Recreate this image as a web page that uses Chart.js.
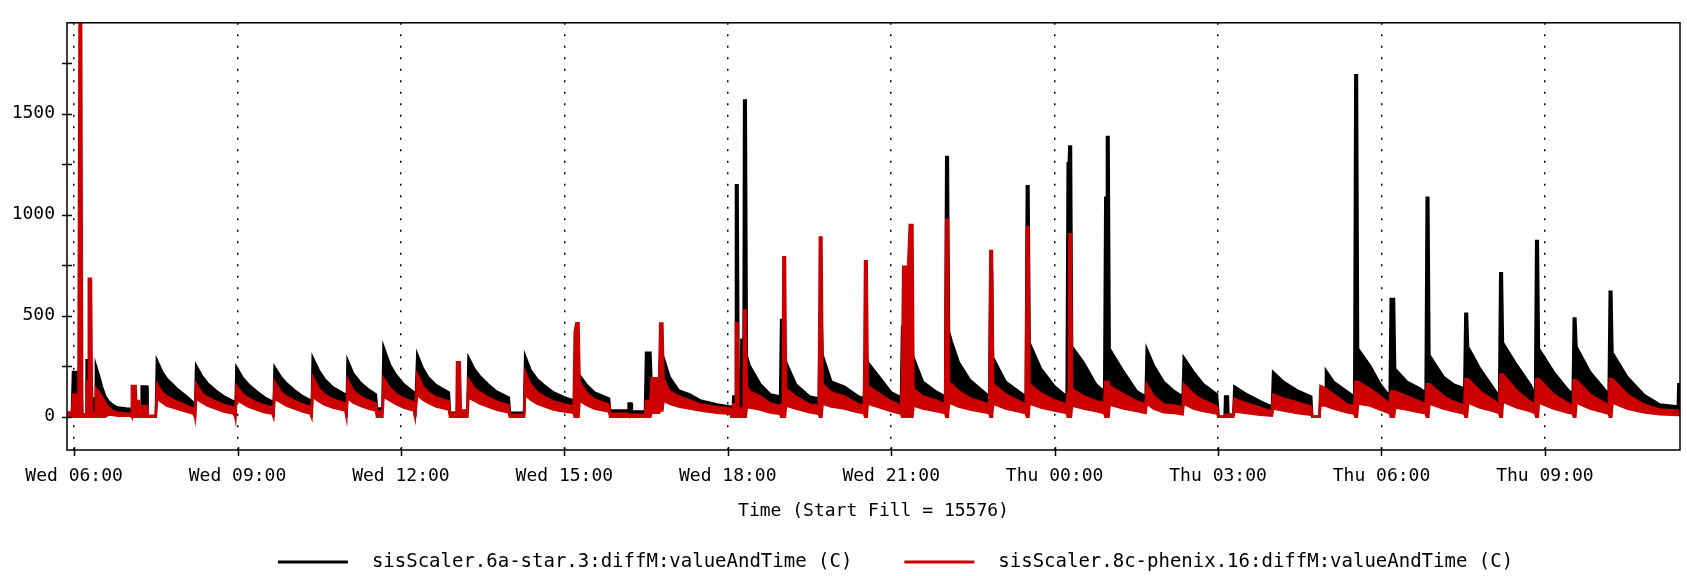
<!DOCTYPE html>
<html>
<head>
<meta charset="utf-8">
<script src="https://cdn.jsdelivr.net/npm/chart.js@4.4.1/dist/chart.umd.min.js"></script>
<style>
  html, body { margin: 0; padding: 0; background: #fff; }
  canvas { display: block; }
</style>
</head>
<body>
<canvas id="chart" width="1687" height="576"></canvas>
<script>
// hours since Wed 00:00
const times = [
  5.87, 5.96, 5.98, 6.08, 6.10, 6.13, 6.15, 6.22, 6.23, 6.26, 6.27, 6.31, 6.33, 6.39, 6.40, 6.46, 6.51, 6.57, 6.63, 6.70, 6.80, 6.96, 7.05, 7.06, 7.13, 7.14, 7.19, 7.20, 7.23, 7.24, 7.34, 7.35, 7.50,
  7.52, 7.62, 7.70, 7.88, 8.06, 8.19, 8.22, 8.24, 8.35, 8.45, 8.60, 8.75, 8.93,
  8.96, 8.98, 9.10, 9.20, 9.35, 9.50, 9.64, 9.66, 9.68, 9.80, 9.90, 10.05, 10.20, 10.34,
  10.36, 10.38, 10.50, 10.60, 10.75, 10.98, 11.00, 11.02, 11.12, 11.25, 11.40, 11.54, 11.56, 11.66, 11.68, 11.80, 11.90, 12.05, 12.24,
  12.26, 12.30, 12.40, 12.50, 12.65, 12.88, 12.90, 13.02, 13.03, 13.08, 13.10, 13.22, 13.24, 13.35, 13.45, 13.60, 13.75, 13.98, 14.00, 14.26,
  14.28, 14.38, 14.50, 14.65, 14.80, 15.00, 15.17, 15.19, 15.22, 15.26, 15.28, 15.40, 15.55, 15.82, 15.84, 16.17, 16.18, 16.23, 16.24, 16.48,
  16.50, 16.58, 16.60, 16.74, 16.76, 16.80, 16.82, 16.93, 17.10, 17.30, 17.50, 17.80, 18.05, 18.07, 18.09,
  18.10, 18.14, 18.15, 18.18, 18.20, 18.24, 18.25, 18.29, 18.30, 18.33, 18.35, 18.40, 18.60, 18.78, 18.96, 18.98, 19.01, 19.02, 19.05, 19.07, 19.25, 19.50, 19.67,
  19.69, 19.72, 19.74, 19.90, 20.14, 20.40, 20.50, 20.52, 20.55, 20.57, 20.80, 21.00, 21.18, 21.20, 21.22, 21.31, 21.32, 21.34, 21.39, 21.41, 21.58, 21.82, 21.99,
  22.01, 22.04, 22.06, 22.11, 22.24, 22.45, 22.80, 22.82, 22.85, 22.87, 23.10, 23.47, 23.49, 23.52, 23.54, 23.75, 24.00, 24.22,
  24.24, 24.26, 24.27, 24.30, 24.32, 24.53, 24.76, 24.91, 24.93, 24.95, 24.96, 24.99, 25.01, 25.27, 25.51, 25.67,
  25.69, 25.82, 26.00, 26.20, 26.35, 26.37, 26.55, 26.73, 26.98, 27.01, 27.12, 27.13, 27.18, 27.19, 27.28,
  27.30, 27.53, 27.77, 27.99, 28.01, 28.20, 28.45, 28.71, 28.73, 28.86,
  28.88, 28.97, 28.98, 29.12, 29.37, 29.50, 29.52, 29.55, 29.57, 29.79, 29.98, 30.15, 30.17, 30.23, 30.25, 30.47, 30.70, 30.81,
  30.83, 30.86, 30.88, 31.14, 31.32, 31.52, 31.54, 31.57, 31.59, 31.81, 32.06, 32.16, 32.18, 32.21, 32.23, 32.49, 32.73, 32.82,
  32.84, 32.87, 32.89, 33.16, 33.40, 33.51, 33.53, 33.56, 33.58, 33.83, 34.08, 34.17, 34.19, 34.22, 34.24, 34.51, 34.81, 35.11, 35.44, 35.45, 35.48
];

// sisScaler.6a-star.3, top edge of the black band
const starHigh = [
  20, 20, 221, 221, 221, 221, 10, 10, 279, 279, 279, 279, 90, 90, 253, 200, 149, 101, 77, 60, 45, 40, 38, 15, 15, 10, 10, 0, 0, 149, 149, 0, 0,
  279, 220, 188, 140, 101, 70, 0, 253, 200, 165, 130, 100, 75,
  0, 245, 190, 160, 125, 95, 75, 0, 245, 195, 165, 130, 100, 80,
  0, 293, 225, 185, 145, 110, 0, 279, 215, 170, 135, 110, 40, 40, 346, 255, 210, 160, 120,
  0, 308, 240, 195, 155, 120, 20, 20, 20, 20, 20, 20, 293, 235, 200, 160, 125, 95, 20, 20,
  300, 230, 185, 150, 120, 95, 80, 100, 100, 100, 205, 160, 120, 90, 30, 30, 65, 65, 25, 25,
  317, 317, 173, 173, 293, 293, 293, 197, 130, 110, 80, 60, 50, 0, 0,
  100, 100, 1146, 1146, 0, 0, 381, 381, 1565, 1565, 300, 253, 160, 110, 100, 478, 478, 300, 300, 269, 160, 100, 90,
  510, 510, 305, 173, 149, 100, 90, 300, 300, 269, 190, 120, 95, 445, 445, 445, 742, 300, 293, 293, 173, 125, 100,
  1286, 1286, 420, 373, 269, 180, 100, 718, 718, 293, 173, 100, 1141, 1141, 365, 237, 149, 100,
  1255, 1255, 1338, 1338, 346, 269, 160, 125, 1084, 1084, 1385, 1385, 336, 221, 125, 100,
  336, 253, 173, 125, 100, 293, 221, 160, 110, 0, 0, 100, 100, 10, 10,
  149, 110, 77, 50, 221, 173, 130, 100, 0, 0,
  100, 100, 228, 173, 125, 100, 1690, 1690, 336, 253, 160, 100, 582, 582, 237, 173, 140, 120,
  1084, 1084, 305, 197, 160, 140, 510, 510, 346, 237, 140, 100, 710, 710, 365, 253, 160, 110,
  870, 870, 336, 221, 140, 110, 486, 486, 346, 221, 140, 110, 618, 618, 317, 197, 110, 60, 50, 161, 161
];

// sisScaler.8c-phenix.16, top and bottom edge of the red band
const phenixHigh = [
  20, 20, 110, 110, 1960, 1960, 10, 10, 173, 173, 683, 683, 20, 20, 140, 120, 100, 70, 45, 30, 20, 15, 15, 152, 152, 77, 77, 0, 0, 53, 53, 5, 5,
  161, 120, 100, 75, 55, 40, 0, 161, 115, 95, 75, 58, 45,
  0, 152, 110, 90, 70, 55, 45, 0, 173, 120, 100, 78, 60, 48,
  0, 197, 135, 110, 85, 65, 0, 185, 130, 100, 80, 65, 25, 25, 190, 140, 115, 90, 70,
  0, 209, 150, 120, 95, 75, 15, 15, 269, 269, 30, 30, 185, 140, 120, 95, 75, 55, 10, 10,
  221, 160, 120, 95, 75, 60, 50, 420, 462, 462, 173, 120, 85, 60, 15, 15, 10, 10, 10, 10,
  77, 77, 190, 190, 461, 461, 190, 125, 100, 80, 60, 48, 40, 0, 0,
  60, 60, 464, 464, 20, 20, 40, 40, 526, 526, 150, 125, 100, 65, 53, 60, 60, 789, 789, 137, 100, 60, 53,
  887, 887, 161, 120, 100, 60, 55, 769, 769, 152, 110, 75, 55, 200, 742, 742, 742, 949, 949, 137, 100, 80, 60,
  975, 975, 161, 161, 125, 90, 60, 820, 820, 161, 110, 60, 939, 939, 161, 115, 80, 60,
  120, 120, 903, 903, 137, 101, 77, 65, 173, 173, 173, 173, 152, 110, 75, 60,
  161, 101, 60, 55, 45, 161, 110, 80, 50, 0, 0, 10, 10, 10, 10,
  89, 65, 45, 25, 110, 90, 70, 50, 0, 0,
  152, 140, 140, 110, 60, 50, 173, 173, 173, 137, 100, 60, 125, 125, 125, 100, 75, 60,
  161, 161, 161, 101, 75, 53, 185, 185, 185, 125, 80, 60, 209, 209, 209, 125, 75, 60,
  185, 185, 185, 110, 70, 53, 180, 180, 180, 110, 70, 53, 185, 185, 185, 110, 60, 35, 29, 29, 29
];

const phenixLow = [
  0, 0, 0, 0, 0, 0, 0, 0, 0, 0, 0, 0, 0, 0, 0, 0, 0, 0, 10, 10, 5, 5, 5, 0, 0, 0, 0, 0, 0, 0, 0, 0, 0,
  90, 70, 55, 40, 25, 15, 0, 90, 70, 55, 40, 25, 15,
  0, 85, 65, 50, 35, 22, 15, 0, 90, 70, 55, 40, 25, 15,
  0, 100, 75, 60, 45, 30, 0, 95, 70, 55, 40, 30, 0, 0, 100, 80, 65, 45, 30,
  0, 110, 85, 70, 50, 35, 0, 0, 0, 0, 0, 0, 95, 80, 65, 50, 35, 20, 0, 0,
  110, 85, 65, 50, 35, 25, 20, 0, 0, 0, 80, 60, 40, 25, 0, 0, 0, 0, 0, 0,
  0, 0, 20, 20, 30, 30, 80, 65, 50, 40, 30, 20, 15, 0, 0,
  0, 0, 0, 0, 0, 0, 0, 0, 0, 0, 45, 45, 35, 20, 15, 0, 0, 0, 0, 55, 40, 22, 15,
  0, 0, 65, 50, 40, 22, 18, 0, 0, 65, 45, 28, 15, 0, 0, 0, 0, 0, 0, 55, 40, 28, 18,
  0, 0, 65, 65, 50, 35, 18, 0, 0, 65, 40, 18, 0, 0, 65, 45, 30, 18,
  0, 0, 0, 0, 55, 40, 28, 18, 0, 0, 0, 0, 60, 40, 28, 18,
  65, 40, 22, 18, 12, 65, 40, 28, 15, 0, 0, 0, 0, 0, 0,
  25, 18, 10, 5, 40, 30, 18, 10, 0, 0,
  55, 55, 55, 40, 22, 15, 0, 0, 65, 55, 35, 18, 0, 0, 45, 35, 22, 18,
  0, 0, 65, 40, 28, 15, 0, 0, 70, 45, 28, 18, 0, 0, 75, 45, 28, 18,
  0, 0, 70, 40, 22, 15, 0, 0, 70, 40, 22, 15, 0, 0, 70, 40, 22, 12, 8, 8, 8
];

const seriesNames = [
  'sisScaler.6a-star.3:diffM:valueAndTime (C)',
  'sisScaler.8c-phenix.16:diffM:valueAndTime (C)'
];
const seriesColors = ['#000000', '#cc0000'];

const xTickHours = [6, 9, 12, 15, 18, 21, 24, 27, 30, 33];
const xTickLabels = ['Wed 06:00', 'Wed 09:00', 'Wed 12:00', 'Wed 15:00', 'Wed 18:00',
  'Wed 21:00', 'Thu 00:00', 'Thu 03:00', 'Thu 06:00', 'Thu 09:00'];
const yTicks = [0, 250, 500, 750, 1000, 1250, 1500, 1750];

if (starHigh.length !== times.length || phenixHigh.length !== times.length || phenixLow.length !== times.length) {
  console.log('length mismatch', times.length, starHigh.length, phenixHigh.length, phenixLow.length);
}

const FONT = '"DejaVu Sans Mono", monospace';
const pts = arr => arr.map((v, i) => ({ x: times[i], y: v }));

// frame round the plot and tick marks crossing the axes
const framePlugin = {
  id: 'frame',
  afterDraw(chart) {
    const { ctx, chartArea: a, scales: { x, y } } = chart;
    ctx.save();
    ctx.strokeStyle = '#000';
    ctx.lineWidth = 1.5;
    ctx.strokeRect(a.left, a.top, a.right - a.left, a.bottom - a.top);
    ctx.beginPath();
    y.ticks.forEach(t => {
      const py = Math.round(y.getPixelForValue(t.value)) + 0.5;
      ctx.moveTo(a.left - 5, py);
      ctx.lineTo(a.left + 5, py);
    });
    x.ticks.forEach(t => {
      const px = Math.round(x.getPixelForValue(t.value)) + 0.5;
      ctx.moveTo(px, a.bottom - 3);
      ctx.lineTo(px, a.bottom + 6);
    });
    ctx.stroke();
    ctx.restore();
  }
};

const legendPlugin = {
  id: 'bottomLegend',
  afterDraw(chart) {
    const { ctx, chartArea: a } = chart;
    const lineLen = 70, gap = 24, spacing = 52;
    ctx.save();
    ctx.font = '19px ' + FONT;
    const widths = seriesNames.map(n => lineLen + gap + ctx.measureText(n).width);
    const total = widths.reduce((s, w) => s + w, 0) + spacing * (widths.length - 1);
    let x = (a.left + a.right) / 2 + 22 - total / 2;
    const y = chart.height - 14;
    seriesNames.forEach((n, i) => {
      ctx.strokeStyle = seriesColors[i];
      ctx.lineWidth = 3;
      ctx.beginPath();
      ctx.moveTo(x, y);
      ctx.lineTo(x + lineLen, y);
      ctx.stroke();
      ctx.fillStyle = '#000';
      ctx.textBaseline = 'middle';
      ctx.fillText(n, x + lineLen + gap, y);
      x += widths[i] + spacing;
    });
    ctx.restore();
  }
};

const line = (data, color, fill) => ({
  data: pts(data),
  borderColor: color,
  backgroundColor: color,
  borderWidth: 2.5,
  fill: fill,
  pointRadius: 0,
  tension: 0
});

new Chart(document.getElementById('chart'), {
  type: 'line',
  data: {
    datasets: [
      line(phenixLow, seriesColors[1], false),
      line(phenixHigh, seriesColors[1], '-1'),
      line(starHigh, seriesColors[0], '-2')
    ]
  },
  options: {
    responsive: false,
    animation: false,
    devicePixelRatio: 1,
    layout: { padding: { top: 10, right: 7, bottom: 50, left: 0 } },
    plugins: { legend: { display: false }, tooltip: { enabled: false } },
    scales: {
      x: {
        type: 'linear',
        min: 5.87,
        max: 35.48,
        afterBuildTicks: s => { s.ticks = xTickHours.map(v => ({ value: v })); },
        afterFit: s => { s.height = 76; },
        ticks: {
          callback: (v, i) => xTickLabels[i],
          color: '#000',
          font: { family: FONT, size: 18 },
          padding: 16,
          maxRotation: 0,
          autoSkip: false
        },
        grid: { color: '#000', lineWidth: 1.5, drawTicks: false },
        border: { display: false, dash: [2, 9.5] },
        title: {
          display: true,
          text: 'Time (Start Fill = 15576)',
          color: '#000',
          font: { family: FONT, size: 18 },
          padding: { top: 0, bottom: 4 }
        }
      },
      y: {
        min: -165,
        max: 1950,
        afterBuildTicks: s => { s.ticks = yTicks.map(v => ({ value: v })); },
        afterFit: s => { s.width = 67; },
        ticks: {
          callback: v => (v % 500 === 0 ? String(v) : ''),
          color: '#000',
          font: { family: FONT, size: 18 },
          padding: 12
        },
        grid: { display: false, drawTicks: false },
        border: { display: false }
      }
    }
  },
  plugins: [framePlugin, legendPlugin]
});
</script>
</body>
</html>
